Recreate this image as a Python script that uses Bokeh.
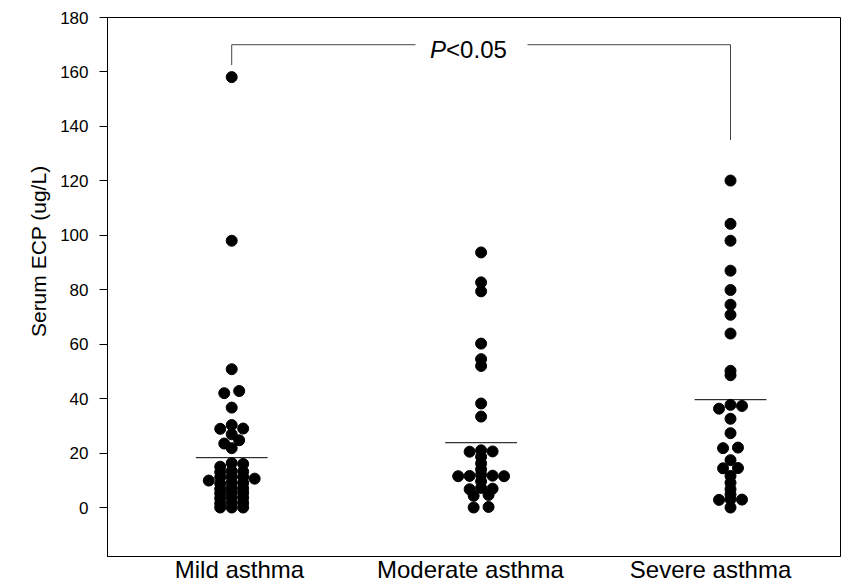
from bokeh.plotting import figure
from bokeh.models import Range1d, FixedTicker, Title
from bokeh.embed import file_html
from bokeh.resources import INLINE
from bokeh.core.properties import value

# ---------------- data ----------------
groups = ["Mild asthma", "Moderate asthma", "Severe asthma"]

mild = [158.1, 98.0, 50.8, 42.8, 42.0, 36.7, 30.3, 29.0, 28.9, 26.9, 24.7, 23.5, 21.8,
        16.3, 16.0, 15.0, 13.4, 13.2, 13.0, 11.3, 11.2, 11.1, 10.6, 9.9,
        9.2, 9.0, 8.8, 7.2, 7.0, 6.8, 5.6, 5.4, 5.2, 3.8, 3.6, 3.4,
        1.9, 1.7, 1.5, 0.0, 0.0, 0.0]

moderate = [93.7, 82.7, 79.4, 60.2, 54.5, 52.0, 38.2, 33.4,
            21.0, 20.6, 20.5, 18.6, 16.2, 14.0, 12.0, 11.7, 11.6, 11.5, 11.5,
            9.6, 7.2, 6.9, 6.7, 4.6, 4.3, 0.2, 0.0]

severe = [120.1, 104.2, 98.0, 87.0, 79.9, 74.5, 70.8, 63.9, 50.2, 48.6,
          37.7, 37.3, 36.3, 32.6, 27.3, 22.0, 21.8, 17.4, 14.5, 14.4,
          11.6, 9.1, 6.7, 4.8, 3.0, 2.9, 2.8, 0.0]

group_means = [18.3, 23.8, 39.6]

y_ticks = [0, 20, 40, 60, 80, 100, 120, 140, 160, 180]
y_title = "Serum ECP (ug/L)"

p_label = "<0.05"
bracket_top = 170
bracket_left_end = 162.5
bracket_right_end = 135

# ---------------- layout helpers ----------------
ROW_WIDTH = 1.5      # values closer than this share one row
STEP = 0.046         # horizontal step between dots in a row (x units)
MEAN_HALF = 0.144    # half width of the mean line (x units)


def swarm(values, center):
    rows = []
    for v in sorted(values, reverse=True):
        if rows and v > rows[-1][0] - ROW_WIDTH:
            rows[-1].append(v)
        else:
            rows.append([v])
    xs, ys = [], []
    for row in rows:
        n = len(row)
        if n % 2 == 1:
            pattern = [0]
            for k in range(1, n // 2 + 1):
                pattern += [k, -k]
        else:
            pattern = []
            for k in range(n // 2):
                pattern += [0.65 * (2 * k + 1), -0.65 * (2 * k + 1)]
        for v, o in zip(row, pattern):
            xs.append(center + o * STEP)
            ys.append(v)
    return xs, ys


all_x, all_y = [], []
for i, vals in enumerate([mild, moderate, severe]):
    xs, ys = swarm(vals, i + 1)
    all_x += xs
    all_y += ys

FONT = "Liberation Sans"

p = figure(width=843, height=585,
           x_range=Range1d(0.502, 3.441), y_range=Range1d(-18, 180),
           output_backend="svg", toolbar_location=None,
           min_border_left=107, min_border_right=3,
           min_border_top=17, min_border_bottom=29)

p.background_fill_color = "white"
p.border_fill_color = "white"
p.outline_line_color = "black"
p.outline_line_width = 1
p.outline_line_alpha = 1.0
p.xgrid.visible = False
p.ygrid.visible = False

# y axis
yax = p.yaxis[0]
yax.ticker = FixedTicker(ticks=y_ticks)
yax.major_tick_out = 8
yax.major_tick_in = 0
yax.minor_tick_out = 0
yax.minor_tick_in = 0
yax.major_tick_line_color = "black"
yax.axis_line_color = "black"
yax.major_label_text_font = FONT
yax.major_label_text_font_size = "17px"
yax.major_label_text_color = "black"
yax.major_label_standoff = 11

# y axis title, placed beside the upper-middle of the axis as in the original
p.add_layout(Title(text=y_title, align="right", offset=148,
                   text_font=FONT, text_font_size="21px",
                   text_font_style="normal", text_color="black",
                   standoff=16), "left")

# x axis (category labels)
label_pos = [1.031, 1.957, 2.92]
xax = p.xaxis[0]
xax.ticker = FixedTicker(ticks=label_pos)
xax.major_label_overrides = {pos: name for pos, name in zip(label_pos, groups)}
xax.major_tick_out = 0
xax.major_tick_in = 0
xax.minor_tick_out = 0
xax.minor_tick_in = 0
xax.axis_line_color = "black"
xax.major_label_text_font = FONT
xax.major_label_text_font_size = "24px"
xax.major_label_text_color = "black"
xax.major_label_standoff = -1

# dots
p.scatter(x=all_x, y=all_y, size=11, marker="circle",
          fill_color="black", line_color="black")

# mean lines
centers = [1, 2, 3]
p.segment(x0=[c - MEAN_HALF for c in centers], x1=[c + MEAN_HALF for c in centers],
          y0=group_means, y1=group_means, line_color="black", line_width=1)

# significance bracket
p.segment(x0=[1, 2.186, 1, 3], x1=[1.737, 3, 1, 3],
          y0=[bracket_top, bracket_top, bracket_top, bracket_top],
          y1=[bracket_top, bracket_top, bracket_left_end, bracket_right_end],
          line_color="#444444", line_width=1)

p.text(x=[2], y=[bracket_top], text=["P"], text_font=value(FONT),
       text_font_style="italic", text_font_size="24px", text_color="black",
       text_align="right", text_baseline="middle", x_offset=-35, y_offset=5)
p.text(x=[2], y=[bracket_top], text=[p_label], text_font=value(FONT),
       text_font_size="24px", text_color="black",
       text_align="left", text_baseline="middle", x_offset=-35, y_offset=5)

open("out.html", "w").write(file_html(p, INLINE))
